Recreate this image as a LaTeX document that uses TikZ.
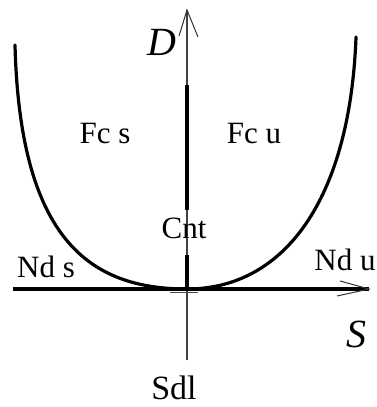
\documentclass[tikz,border=0pt]{standalone}
\usepackage{fontspec}
\setmainfont{Liberation Serif}
\begin{document}
\begin{tikzpicture}[x=1pt,y=-1pt,
  lbl/.style={anchor=base,inner sep=0pt,font=\fontsize{31}{33}\selectfont},
  axlbl/.style={anchor=base,inner sep=0pt,font=\fontsize{40}{42}\selectfont\itshape},
  thinax/.style={line width=1.2pt,black!75},
  thickln/.style={line width=3.2pt,line cap=round},
  tip/.style={line width=1pt,black!80}]
\useasboundingbox (0,0) rectangle (376,407);
% coordinates
\coordinate (vb) at (187,360);
\coordinate (vt) at (187,10);
\coordinate (va1) at (179,36);
\coordinate (va2) at (198,37);
\coordinate (hl) at (13,289);
\coordinate (hr) at (369,289);
\coordinate (ha1) at (340,281);
\coordinate (ha2) at (337,296);
\coordinate (o) at (187,289);
% vertical axis
\draw[thinax] (vb) -- (vt);
\draw[tip] (va1) -- (vt) -- (va2);
\draw[thickln,line cap=butt] (187,85) -- (187,210);
\draw[thickln,line cap=butt] (187,255) -- (o);
\draw[line width=1pt,black!70] (170,292) -- (198,292);
% horizontal axis
\draw[line width=3.6pt] (hl) -- (hr);
\draw[tip] (ha1) -- (hr) -- (ha2);
% curve
\draw[thickln] (15,45) .. controls (20,240) and (90,289) .. (o)
  .. controls (284,289) and (350,200) .. (356,37);
% labels
\node[lbl] (fcs) at (105,143) {Fc s};
\node[lbl] (fcu) at (254,143) {Fc u};
\node[lbl] (cnt) at (184,238) {Cnt};
\node[lbl] (nds) at (46,277) {Nd s};
\node[lbl] (ndu) at (345,270) {Nd u};
\node[axlbl] (S) at (356,347) {S};
\node[axlbl] (D) at (162,55) {D};
\node[lbl,font=\fontsize{34}{36}\selectfont] (sdl) at (174,399) {Sdl};
\end{tikzpicture}
\end{document}
